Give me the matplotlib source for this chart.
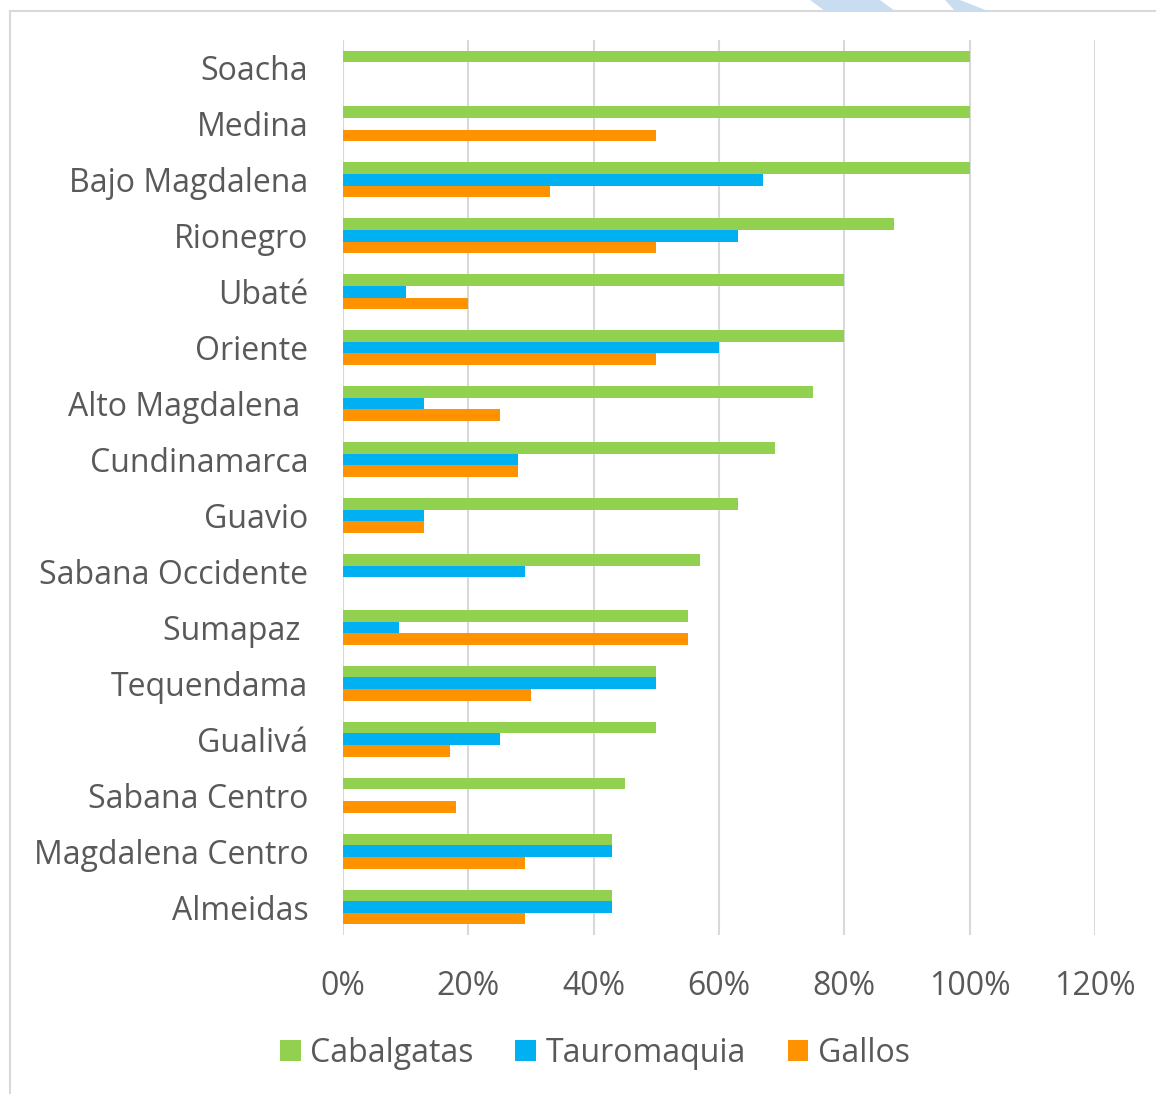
import matplotlib.pyplot as plt
import numpy as np
from matplotlib.patches import Polygon, Rectangle

# regions, top to bottom
regions = ["Soacha", "Medina", "Bajo Magdalena", "Rionegro", "Ubaté", "Oriente",
           "Alto Magdalena ", "Cundinamarca", "Guavio", "Sabana Occidente",
           "Sumapaz ", "Tequendama", "Gualivá", "Sabana Centro",
           "Magdalena Centro", "Almeidas"]

# percentages
cabalgatas = [100, 100, 100, 88, 80, 80, 75, 69, 63, 57, 55, 50, 50, 45, 43, 43]
tauromaquia = [0, 0, 67, 63, 10, 60, 13, 28, 13, 29, 9, 50, 25, 0, 43, 43]
gallos = [0, 50, 33, 50, 20, 50, 25, 28, 13, 0, 55, 30, 17, 18, 29, 29]

series_names = ["Cabalgatas", "Tauromaquia", "Gallos"]
colors = ["#92D050", "#00B0F0", "#FF9200"]
xticks = [0, 20, 40, 60, 80, 100, 120]

plt.rcParams['font.family'] = ['Open Sans', 'DejaVu Sans']
text_color = "#595959"

fig = plt.figure(figsize=(11.56, 10.94), dpi=100)
ax = fig.add_axes([343 / 1156, 1 - 935 / 1094, (1095 - 343) / 1156, (935 - 40) / 1094])

y = np.arange(len(regions))
h = 0.208
for k, (vals, name, c) in enumerate(zip([cabalgatas, tauromaquia, gallos], series_names, colors)):
    ax.barh(y + (k - 1) * h, vals, height=h, color=c, label=name, zorder=3)

ax.set_xlim(0, 120)
ax.set_ylim(len(regions) - 0.5, -0.5)
ax.set_xticks(xticks)
ax.set_xticklabels([f"{t}%" for t in xticks])
ax.set_yticks(y)
ax.set_yticklabels(regions)
ax.grid(axis='x', color="#D9D9D9", linewidth=1.5, zorder=0)
for s in ax.spines.values():
    s.set_visible(False)
ax.tick_params(axis='both', length=0, labelsize=23, colors=text_color)
ax.tick_params(axis='x', pad=25)
ax.tick_params(axis='y', pad=25)

ax.legend(loc='center', bbox_to_anchor=(595 / 1156, 1 - 1053 / 1094),
          bbox_transform=fig.transFigure, ncol=3, frameon=False,
          fontsize=23, labelcolor=text_color, handlelength=0.65, handleheight=0.65,
          handletextpad=0.3, columnspacing=1.3)

# chart frame and faint watermark at the top
fig.patches.append(Rectangle((10 / 1156, -0.01), 1.1, 1 - 11 / 1094 + 0.01,
                             transform=fig.transFigure, fill=False,
                             edgecolor="#D9D9D9", linewidth=1.5))
for pts in ([(810, 0), (880, 0), (895, 11), (825, 11)], [(945, 0), (960, 0), (988, 11), (955, 11)]):
    fig.patches.append(Polygon([(px / 1156, 1 - py / 1094) for px, py in pts],
                               closed=True, transform=fig.transFigure,
                               facecolor="#C9DDF0", edgecolor='none'))

fig.savefig("out.png", dpi=100)
